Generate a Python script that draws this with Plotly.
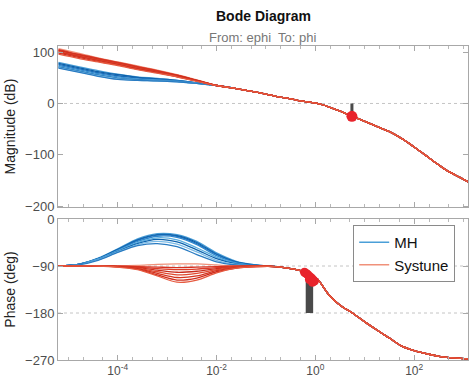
import plotly.graph_objects as go
from plotly.subplots import make_subplots

# ---------------- data ----------------
LOW_LOGF = [-5.2, -4.8, -4.4, -4.0, -3.6, -3.2, -2.8, -2.4, -2.0, -1.6, -1.2, -0.8, -0.5]
TAIL_LOGF = [-0.3, -0.15, -0.05, 0.02, 0.1, 0.28, 0.5, 0.75, 1.0, 1.3, 1.5, 1.76, 2.0, 2.3, 2.5, 2.65, 3.1]

# magnitude (dB) of each curve at LOW_LOGF[0:8]
mh_mag_low = [
    [80, 72, 64, 57, 52, 49, 45, 40],
    [78, 70, 62, 56, 51, 48, 45, 40],
    [76, 68, 60, 54, 50, 47, 44, 40],
    [74, 66, 58, 52, 48, 46, 44, 40],
    [72, 64, 56, 50, 47, 45, 43, 39],
    [71, 63, 55, 49, 46, 44, 43, 39],
    [70, 62, 54, 48, 45, 44, 42, 39],
    [69, 61, 53, 47, 45, 44, 42, 39],
]
systune_mag_low = [
    [107, 98, 89, 81, 73, 65, 56, 46],
    [105, 96, 88, 80, 72, 64, 55, 45],
    [104, 95, 87, 79, 71, 63, 55, 45],
    [103, 94, 86, 78, 70, 62, 54, 45],
    [101, 93, 85, 77, 69, 61, 53, 44],
    [100, 92, 84, 76, 68, 60, 53, 44],
    [98, 90, 82, 75, 67, 60, 52, 44],
    [96, 88, 81, 74, 66, 59, 52, 43],
]
mag_mid = [35, 29, 22, 14, 9]          # LOW_LOGF[8:13], shared
mag_tail = [5, 3, 1.5, 0.5, -1.5, -7, -15, -25, -35, -47, -55, -69, -85, -106, -120, -130, -153]

# phase (deg) of each curve at LOW_LOGF
mh_phase_low = [
    [-90, -87, -75, -57, -38, -28, -30, -43, -65, -81, -88, -91, -95],
    [-90, -87, -76, -58, -40, -30, -32, -45, -67, -82, -88, -91, -95],
    [-90, -87, -76, -59, -41, -31, -33, -47, -68, -83, -89, -91, -95],
    [-90, -87, -77, -60, -43, -33, -35, -49, -70, -84, -89, -91, -95],
    [-90, -87, -77, -61, -45, -36, -40, -55, -73, -85, -89, -91, -95],
    [-90, -87, -78, -62, -47, -39, -44, -59, -76, -86, -89, -91, -95],
    [-90, -88, -78, -63, -49, -43, -48, -63, -79, -87, -90, -91, -95],
    [-90, -88, -79, -64, -51, -47, -53, -68, -82, -88, -90, -91, -95],
]
systune_phase_low = [
    [-90, -90, -90, -90, -89, -87, -86, -86, -88, -90, -90, -91, -95],
    [-90, -90, -90, -90, -91, -92, -93, -92, -91, -90, -90, -91, -95],
    [-90, -90, -90, -91, -92, -95, -97, -96, -93, -91, -90, -91, -95],
    [-90, -90, -90, -91, -93, -98, -102, -100, -95, -92, -90, -91, -95],
    [-90, -90, -90, -91, -94, -101, -107, -104, -97, -92, -90, -91, -95],
    [-90, -90, -90, -91, -95, -104, -112, -109, -99, -93, -91, -91, -95],
    [-90, -90, -90, -91, -96, -107, -117, -113, -101, -94, -91, -91, -95],
    [-90, -90, -90, -92, -97, -109, -121, -117, -103, -94, -91, -91, -95],
]
phase_tail = [-99, -104, -114, -113, -122, -146, -165, -180, -197, -216, -228, -244, -252, -259, -263, -265, -268]

# stability margins
gm_logf = [0.74]
gm_db = [-25]
pm_bar_logf = [-0.17, -0.145, -0.12, -0.095, -0.07]
pm_bar_top = [-106, -108, -110, -112, -114]
pm_dot_logf = [-0.22, -0.19, -0.16, -0.13, -0.11, -0.08, -0.05, -0.02, -0.12, -0.06]
pm_dot_phase = [-102, -104, -106, -109, -111, -113, -116, -119, -116, -121]

mh_colors = ['#4a9fd8', '#0b5fa8', '#1769b5', '#2f86cc', '#5aaee0', '#0e64ae', '#7bbbe6', '#2a7cc2']
systune_colors = ['#f0917a', '#d6301f', '#dc3a26', '#c92b1c', '#e0482f', '#d4341f', '#cf2d1d', '#e65a40']

tick_x = [-4, -2, 0, 2]
tick_x_text = ['10<sup>-4</sup>', '10<sup>-2</sup>', '10<sup>0</sup>', '10<sup>2</sup>']
mag_ticks = [-200, -100, 0, 100]
phase_ticks = [-270, -180, -90, 0]
mag_grid = [0]
phase_grid = [-90, -180]

# ---------------- figure ----------------
fig = make_subplots(rows=2, cols=1, shared_xaxes=True)

full_logf = LOW_LOGF + TAIL_LOGF
full_f = [10 ** v for v in full_logf]


def add_group(mags, phases, colors, name):
    for i, (m, p) in enumerate(zip(mags, phases)):
        mag = m + mag_mid + mag_tail
        ph = p + phase_tail
        fig.add_trace(go.Scatter(x=full_f, y=mag, mode='lines', line=dict(color=colors[i], width=1.3, shape='spline', smoothing=0.8),
                                 showlegend=False, hoverinfo='skip'), row=1, col=1)
        fig.add_trace(go.Scatter(x=full_f, y=ph, mode='lines', line=dict(color=colors[i], width=1.3, shape='spline', smoothing=0.8),
                                 name=name, legendgroup=name, showlegend=(i == 0), hoverinfo='skip'), row=2, col=1)


add_group(mh_mag_low, mh_phase_low, mh_colors, 'MH')
add_group(systune_mag_low, systune_phase_low, systune_colors, 'Systune')

# gain margin bar + marker
for lf, db in zip(gm_logf, gm_db):
    fig.add_trace(go.Scatter(x=[10 ** lf, 10 ** lf], y=[0, db], mode='lines', line=dict(color='#4a4a4a', width=3),
                             showlegend=False, hoverinfo='skip'), row=1, col=1)
fig.add_trace(go.Scatter(x=[10 ** v for v in gm_logf], y=gm_db, mode='markers',
                         marker=dict(color='#e8242c', size=11), showlegend=False, hoverinfo='skip'), row=1, col=1)

# phase margin bars + markers
for lf, top in zip(pm_bar_logf, pm_bar_top):
    fig.add_trace(go.Scatter(x=[10 ** lf, 10 ** lf], y=[-180, top], mode='lines', line=dict(color='#4a4a4a', width=2.5),
                             showlegend=False, hoverinfo='skip'), row=2, col=1)
fig.add_trace(go.Scatter(x=[10 ** v for v in pm_dot_logf], y=pm_dot_phase, mode='markers',
                         marker=dict(color='#e8242c', size=9), showlegend=False, hoverinfo='skip'), row=2, col=1)

# grid lines (dotted)
for g in mag_grid:
    fig.add_shape(type='line', xref='x domain', x0=0, x1=1, yref='y', y0=g, y1=g,
                  line=dict(color='#c4c4c4', width=1, dash='dot'), layer='below')
for g in phase_grid:
    fig.add_shape(type='line', xref='x2 domain', x0=0, x1=1, yref='y2', y0=g, y1=g,
                  line=dict(color='#c4c4c4', width=1, dash='dot'), layer='below')

axis_common = dict(showline=True, linecolor='#a8a8a8', linewidth=1, mirror='allticks', ticks='inside',
                   tickcolor='#a8a8a8', ticklen=5, showgrid=False, zeroline=False)

fig.update_xaxes(type='log', range=[-5.21, 3.09], tickvals=[10 ** v for v in tick_x], ticktext=tick_x_text,
                 minor=dict(ticks='inside', ticklen=3, tickcolor='#b8b8b8'),
                 tickfont=dict(size=12, color='#4d4d4d'), **axis_common)
fig.update_xaxes(showticklabels=False, row=1, col=1)

fig.update_yaxes(range=[-202, 112], tickvals=mag_ticks, tickfont=dict(size=13, color='#4d4d4d'),
                 title=dict(text='Magnitude (dB)', font=dict(size=14, color='#222222'), standoff=6),
                 domain=[0.487, 1.0], row=1, col=1, **axis_common)
fig.update_yaxes(range=[-270, 0], tickvals=phase_ticks, tickfont=dict(size=13, color='#4d4d4d'),
                 title=dict(text='Phase (deg)', font=dict(size=14, color='#222222'), standoff=6),
                 domain=[0.0, 0.449], row=2, col=1, **axis_common)

fig.update_layout(
    width=469, height=384,
    margin=dict(l=58, r=1, t=46, b=24),
    paper_bgcolor='white', plot_bgcolor='white',
    font=dict(family='Liberation Sans, Arial, sans-serif', color='#222222'),
    showlegend=True,
    legend=dict(x=0.72, y=0.43, xanchor='left', yanchor='top', bgcolor='white',
                bordercolor='#8a8a8a', borderwidth=1, font=dict(size=15, color='#111111'),
                tracegroupgap=0, itemwidth=30),
    annotations=[
        dict(text='<b>Bode Diagram</b>', xref='paper', yref='paper', x=0.5, y=1, yshift=30,
             showarrow=False, font=dict(size=14, color='#111111'), xanchor='center', yanchor='middle'),
        dict(text='From: ephi  To: phi', xref='paper', yref='paper', x=0.5, y=1, yshift=9,
             showarrow=False, font=dict(size=13, color='#777777'), xanchor='center', yanchor='middle'),
    ],
)

fig.write_html('out.html', config={'displayModeBar': False},
               post_script="document.body.style.margin='0';")
